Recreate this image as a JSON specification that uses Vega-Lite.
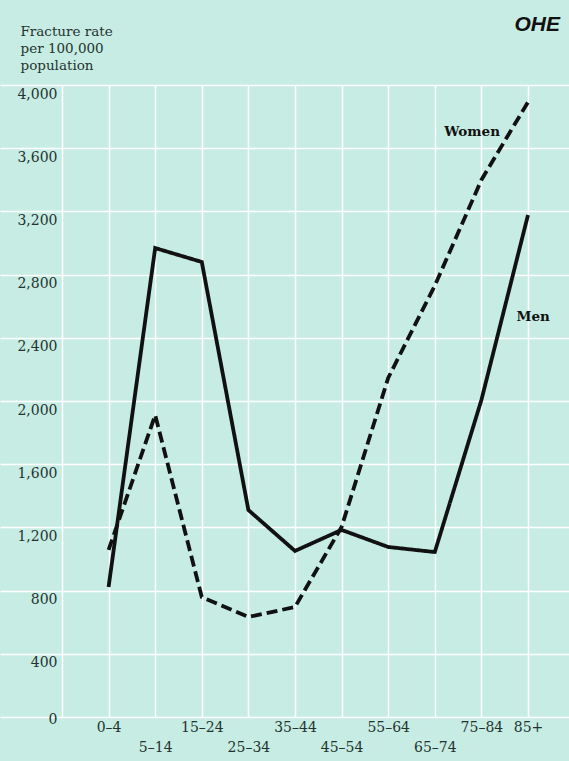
{
  "$schema": "https://vega.github.io/schema/vega-lite/v6.json",
  "width": 569,
  "height": 632,
  "autosize": {"type": "none"},
  "padding": {"left": 0, "top": 85, "right": 0, "bottom": 44},
  "background": "#c6ece3",
  "config": {"view": {"stroke": null}, "font": "DejaVu Serif"},
  "title": {
    "text": "OHE",
    "anchor": "end",
    "frame": "group",
    "font": "Liberation Sans",
    "fontSize": 21,
    "fontWeight": "bold",
    "fontStyle": "italic",
    "color": "#111111",
    "offset": 0,
    "dx": -9,
    "dy": 11
  },
  "datasets": {
    "rates": [
      {"sex": "Men", "idx": 0, "rate": 823},
      {"sex": "Men", "idx": 1, "rate": 2968},
      {"sex": "Men", "idx": 2, "rate": 2880},
      {"sex": "Men", "idx": 3, "rate": 1310},
      {"sex": "Men", "idx": 4, "rate": 1051},
      {"sex": "Men", "idx": 5, "rate": 1184},
      {"sex": "Men", "idx": 6, "rate": 1076},
      {"sex": "Men", "idx": 7, "rate": 1044},
      {"sex": "Men", "idx": 8, "rate": 2006},
      {"sex": "Men", "idx": 9, "rate": 3177},
      {"sex": "Women", "idx": 0, "rate": 1057},
      {"sex": "Women", "idx": 1, "rate": 1911},
      {"sex": "Women", "idx": 2, "rate": 759},
      {"sex": "Women", "idx": 3, "rate": 633},
      {"sex": "Women", "idx": 4, "rate": 696},
      {"sex": "Women", "idx": 5, "rate": 1203},
      {"sex": "Women", "idx": 6, "rate": 2146},
      {"sex": "Women", "idx": 7, "rate": 2730},
      {"sex": "Women", "idx": 8, "rate": 3399},
      {"sex": "Women", "idx": 9, "rate": 3892}
    ],
    "labels": [
      {"sex": "Women", "idx": 7.8, "rate": 3703},
      {"sex": "Men", "idx": 9.11, "rate": 2532}
    ]
  },
  "layer": [
    {
      "data": {"name": "rates"},
      "mark": {"type": "line", "color": "#111111", "strokeWidth": 3.8, "strokeJoin": "miter", "strokeCap": "butt", "clip": false},
      "encoding": {
        "x": {
          "field": "idx",
          "type": "quantitative",
          "scale": {"domain": [-2.33, 9.88], "nice": false, "zero": false},
          "axis": {
            "values": [-1, 0, 1, 2, 3, 4, 5, 6, 7, 8, 9],
            "labelExpr": "datum.value < 0 ? '' : ['0–4','5–14','15–24','25–34','35–44','45–54','55–64','65–74','75–84','85+'][datum.value]",
            "title": null,
            "domain": false,
            "ticks": false,
            "grid": true,
            "gridColor": "#ffffff",
            "gridWidth": 1.5,
            "labelFont": "DejaVu Serif",
            "labelFontSize": 14,
            "labelColor": "#25332f",
            "labelBaseline": "top",
            "labelPadding": {"condition": {"test": "datum.value == 1 || datum.value == 3 || datum.value == 5 || datum.value == 7", "value": 23}, "value": 3},
            "labelFlush": false,
            "labelOverlap": false,
            "labelBound": false
          }
        },
        "y": {
          "field": "rate",
          "type": "quantitative",
          "scale": {"domain": [0, 4000], "nice": false},
          "axis": {
            "values": [0, 400, 800, 1200, 1600, 2000, 2400, 2800, 3200, 3600, 4000],
            "labelExpr": "format(datum.value, ',d')",
            "title": ["Fracture rate", "per 100,000", "population"],
            "titleAngle": 0,
            "titleAlign": "left",
            "titleBaseline": "alphabetic",
            "titleX": -38,
            "titleY": -50,
            "titleFont": "DejaVu Serif",
            "titleFontSize": 13.5,
            "titleFontWeight": "normal",
            "titleColor": "#25332f",
            "titleLineHeight": 17,
            "offset": -58,
            "domain": false,
            "ticks": false,
            "grid": true,
            "gridColor": "#ffffff",
            "gridWidth": 1.5,
            "labelAlign": "right",
            "labelBaseline": {"condition": {"test": "datum.value == 0", "value": "middle"}, "value": "top"},
            "labelOffset": 2,
            "labelPadding": 1,
            "labelFont": "DejaVu Serif",
            "labelFontSize": 14,
            "labelColor": "#25332f",
            "labelOverlap": false,
            "labelFlush": false
          }
        },
        "strokeDash": {
          "field": "sex",
          "type": "nominal",
          "scale": {"domain": ["Men", "Women"], "range": [[1, 0], [11, 5]]},
          "legend": null
        },
        "order": {"field": "idx", "type": "quantitative"}
      }
    },
    {
      "data": {"name": "labels"},
      "mark": {"type": "text", "font": "DejaVu Serif", "fontWeight": "bold", "fontSize": 13.5, "color": "#111111"},
      "encoding": {
        "x": {"field": "idx", "type": "quantitative"},
        "y": {"field": "rate", "type": "quantitative"},
        "text": {"field": "sex", "type": "nominal"}
      }
    }
  ]
}
